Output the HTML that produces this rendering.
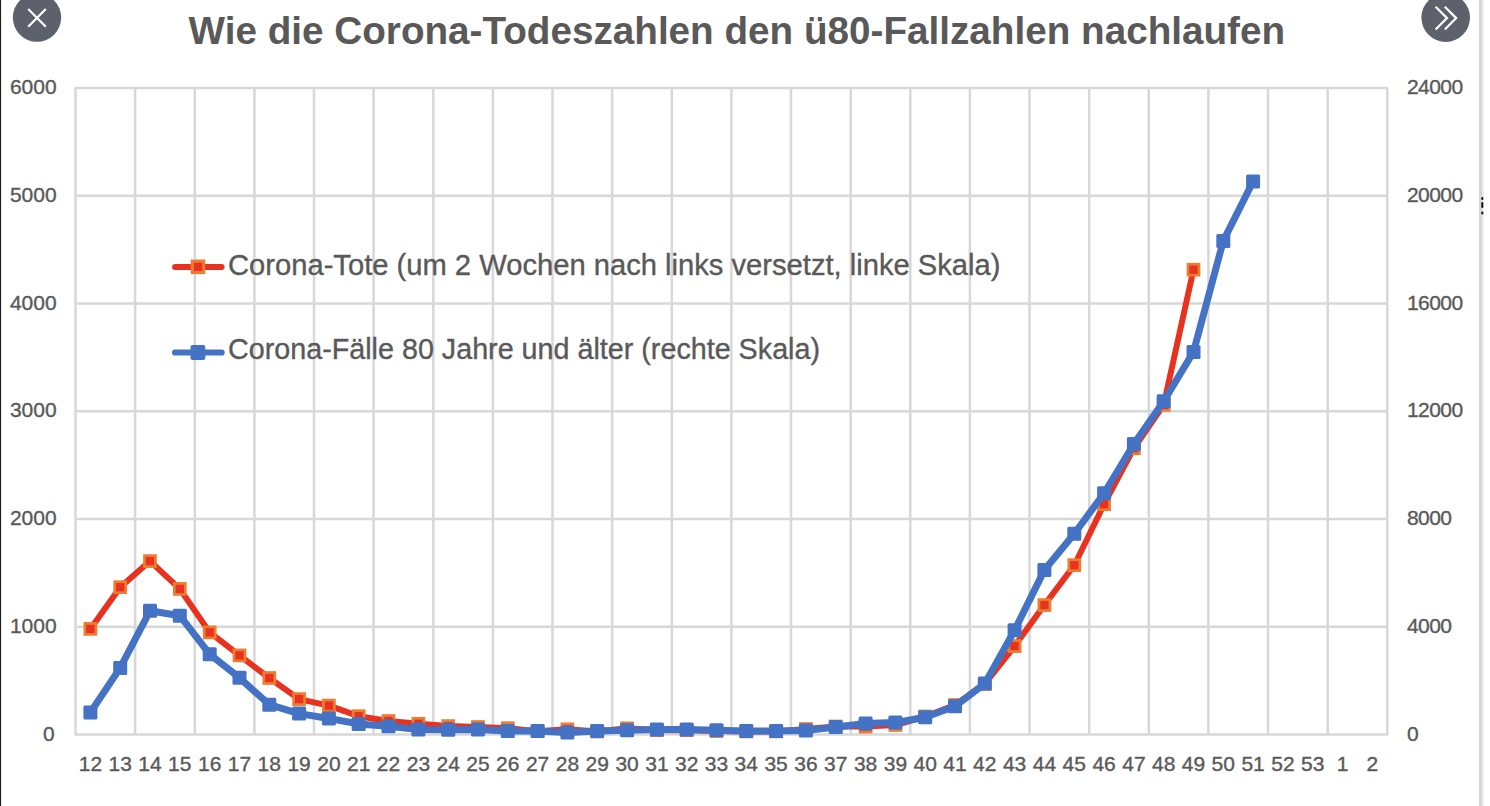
<!DOCTYPE html>
<html><head><meta charset="utf-8"><title>Wie die Corona-Todeszahlen den ü80-Fallzahlen nachlaufen</title>
<style>
html,body{margin:0;padding:0;background:#fff;overflow:hidden}
svg{display:block}
text{font-family:"Liberation Sans",Arial,sans-serif}
.t{stroke:#595959;stroke-width:0.35px}
</style></head><body>
<svg width="1490" height="806" viewBox="0 0 1490 806">
<rect width="1490" height="806" fill="#fff"/>
<path d="M74.5 88.0H1388.3 M74.5 195.8H1388.3 M74.5 303.5H1388.3 M74.5 411.3H1388.3 M74.5 519.1H1388.3 M74.5 626.8H1388.3 M74.5 734.6H1388.3 M75.5 88.0V734.6 M135.1 88.0V734.6 M194.8 88.0V734.6 M254.4 88.0V734.6 M314.0 88.0V734.6 M373.6 88.0V734.6 M433.3 88.0V734.6 M492.9 88.0V734.6 M552.5 88.0V734.6 M612.1 88.0V734.6 M671.8 88.0V734.6 M731.4 88.0V734.6 M791.0 88.0V734.6 M850.7 88.0V734.6 M910.3 88.0V734.6 M969.9 88.0V734.6 M1029.5 88.0V734.6 M1089.2 88.0V734.6 M1148.8 88.0V734.6 M1208.4 88.0V734.6 M1268.0 88.0V734.6 M1327.7 88.0V734.6 M1387.3 88.0V734.6" stroke="#d8d8d8" stroke-width="2.5" fill="none"/>
<g fill="#595959" font-size="21" text-anchor="end" class="t">
<text x="56.6" y="94.0">6000</text>
<text x="56.6" y="201.8">5000</text>
<text x="56.6" y="309.5">4000</text>
<text x="56.6" y="417.3">3000</text>
<text x="56.6" y="525.1">2000</text>
<text x="56.6" y="632.8">1000</text>
<text x="54.8" y="740.6">0</text>
</g>
<g fill="#595959" font-size="21" text-anchor="start" class="t">
<text x="1406.9" y="94.0" letter-spacing="-0.55">24000</text>
<text x="1406.9" y="201.8" letter-spacing="-0.55">20000</text>
<text x="1406.9" y="309.5" letter-spacing="-0.55">16000</text>
<text x="1406.9" y="417.3" letter-spacing="-0.55">12000</text>
<text x="1406.9" y="525.1" letter-spacing="-0.55">8000</text>
<text x="1406.9" y="632.8" letter-spacing="-0.55">4000</text>
<text x="1406.9" y="740.6" letter-spacing="-0.55">0</text>
</g>
<g fill="#595959" font-size="21" text-anchor="middle" class="t">
<text x="90.4" y="770.8">12</text>
<text x="120.2" y="770.8">13</text>
<text x="150.0" y="770.8">14</text>
<text x="179.8" y="770.8">15</text>
<text x="209.7" y="770.8">16</text>
<text x="239.5" y="770.8">17</text>
<text x="269.3" y="770.8">18</text>
<text x="299.1" y="770.8">19</text>
<text x="328.9" y="770.8">20</text>
<text x="358.7" y="770.8">21</text>
<text x="388.5" y="770.8">22</text>
<text x="418.4" y="770.8">23</text>
<text x="448.2" y="770.8">24</text>
<text x="478.0" y="770.8">25</text>
<text x="507.8" y="770.8">26</text>
<text x="537.6" y="770.8">27</text>
<text x="567.4" y="770.8">28</text>
<text x="597.2" y="770.8">29</text>
<text x="627.1" y="770.8">30</text>
<text x="656.9" y="770.8">31</text>
<text x="686.7" y="770.8">32</text>
<text x="716.5" y="770.8">33</text>
<text x="746.3" y="770.8">34</text>
<text x="776.1" y="770.8">35</text>
<text x="805.9" y="770.8">36</text>
<text x="835.7" y="770.8">37</text>
<text x="865.6" y="770.8">38</text>
<text x="895.4" y="770.8">39</text>
<text x="925.2" y="770.8">40</text>
<text x="955.0" y="770.8">41</text>
<text x="984.8" y="770.8">42</text>
<text x="1014.6" y="770.8">43</text>
<text x="1044.4" y="770.8">44</text>
<text x="1074.3" y="770.8">45</text>
<text x="1104.1" y="770.8">46</text>
<text x="1133.9" y="770.8">47</text>
<text x="1163.7" y="770.8">48</text>
<text x="1193.5" y="770.8">49</text>
<text x="1223.3" y="770.8">50</text>
<text x="1253.1" y="770.8">51</text>
<text x="1283.0" y="770.8">52</text>
<text x="1312.8" y="770.8">53</text>
<text x="1342.6" y="770.8">1</text>
<text x="1372.4" y="770.8">2</text>
</g>
<text x="188.6" y="44.3" fill="#595959" font-size="38.9" font-weight="bold" textLength="1096.5" lengthAdjust="spacingAndGlyphs">Wie die Corona-Todeszahlen den ü80-Fallzahlen nachlaufen</text>
<path d="M175.1 266.9H221.6" stroke="#e8321f" stroke-width="6" stroke-linecap="round"/>
<rect x="192.3" y="261.1" width="11.4" height="11.4" fill="#e8321f" stroke="#ed7d31" stroke-width="3.2"/>
<text class="t" x="228" y="274.9" fill="#595959" font-size="29" textLength="772.5" lengthAdjust="spacingAndGlyphs">Corona-Tote (um 2 Wochen nach links versetzt, linke Skala)</text>
<path d="M175.1 352.5H221.6" stroke="#4472c4" stroke-width="6.2" stroke-linecap="round"/>
<rect x="190.5" y="345.1" width="14.8" height="14.8" rx="2" fill="#4472c4"/>
<text class="t" x="228" y="358.8" fill="#595959" font-size="29" textLength="592" lengthAdjust="spacingAndGlyphs">Corona-Fälle 80 Jahre und älter (rechte Skala)</text>
<polyline points="90.4,628.9 120.2,587.2 150.0,561.1 179.8,588.9 209.7,632.4 239.5,655.4 269.3,678.0 299.1,699.1 328.9,705.6 358.7,716.2 388.5,721.0 418.4,723.8 448.2,726.1 478.0,727.0 507.8,728.2 537.6,731.2 567.4,729.3 597.2,731.5 627.1,728.3 656.9,730.2 686.7,730.2 716.5,731.0 746.3,731.4 776.1,731.4 805.9,729.0 835.7,726.5 865.6,726.6 895.4,725.0 925.2,716.5 955.0,705.0 984.8,684.0 1014.6,646.1 1044.4,605.1 1074.3,565.2 1104.1,504.2 1133.9,448.2 1163.7,404.9 1193.5,269.7" fill="none" stroke="#e8321f" stroke-width="6" stroke-linejoin="round"/>
<g>
<rect x="84.9" y="623.4" width="11" height="11" fill="#e8321f" stroke="#ed7d31" stroke-width="2.7"/>
<rect x="114.7" y="581.7" width="11" height="11" fill="#e8321f" stroke="#ed7d31" stroke-width="2.7"/>
<rect x="144.5" y="555.6" width="11" height="11" fill="#e8321f" stroke="#ed7d31" stroke-width="2.7"/>
<rect x="174.3" y="583.4" width="11" height="11" fill="#e8321f" stroke="#ed7d31" stroke-width="2.7"/>
<rect x="204.2" y="626.9" width="11" height="11" fill="#e8321f" stroke="#ed7d31" stroke-width="2.7"/>
<rect x="234.0" y="649.9" width="11" height="11" fill="#e8321f" stroke="#ed7d31" stroke-width="2.7"/>
<rect x="263.8" y="672.5" width="11" height="11" fill="#e8321f" stroke="#ed7d31" stroke-width="2.7"/>
<rect x="293.6" y="693.6" width="11" height="11" fill="#e8321f" stroke="#ed7d31" stroke-width="2.7"/>
<rect x="323.4" y="700.1" width="11" height="11" fill="#e8321f" stroke="#ed7d31" stroke-width="2.7"/>
<rect x="353.2" y="710.7" width="11" height="11" fill="#e8321f" stroke="#ed7d31" stroke-width="2.7"/>
<rect x="383.0" y="715.5" width="11" height="11" fill="#e8321f" stroke="#ed7d31" stroke-width="2.7"/>
<rect x="412.9" y="718.3" width="11" height="11" fill="#e8321f" stroke="#ed7d31" stroke-width="2.7"/>
<rect x="442.7" y="720.6" width="11" height="11" fill="#e8321f" stroke="#ed7d31" stroke-width="2.7"/>
<rect x="472.5" y="721.5" width="11" height="11" fill="#e8321f" stroke="#ed7d31" stroke-width="2.7"/>
<rect x="502.3" y="722.7" width="11" height="11" fill="#e8321f" stroke="#ed7d31" stroke-width="2.7"/>
<rect x="532.1" y="725.7" width="11" height="11" fill="#e8321f" stroke="#ed7d31" stroke-width="2.7"/>
<rect x="561.9" y="723.8" width="11" height="11" fill="#e8321f" stroke="#ed7d31" stroke-width="2.7"/>
<rect x="591.7" y="726.0" width="11" height="11" fill="#e8321f" stroke="#ed7d31" stroke-width="2.7"/>
<rect x="621.6" y="722.8" width="11" height="11" fill="#e8321f" stroke="#ed7d31" stroke-width="2.7"/>
<rect x="651.4" y="724.7" width="11" height="11" fill="#e8321f" stroke="#ed7d31" stroke-width="2.7"/>
<rect x="681.2" y="724.7" width="11" height="11" fill="#e8321f" stroke="#ed7d31" stroke-width="2.7"/>
<rect x="711.0" y="725.5" width="11" height="11" fill="#e8321f" stroke="#ed7d31" stroke-width="2.7"/>
<rect x="740.8" y="725.9" width="11" height="11" fill="#e8321f" stroke="#ed7d31" stroke-width="2.7"/>
<rect x="770.6" y="725.9" width="11" height="11" fill="#e8321f" stroke="#ed7d31" stroke-width="2.7"/>
<rect x="800.4" y="723.5" width="11" height="11" fill="#e8321f" stroke="#ed7d31" stroke-width="2.7"/>
<rect x="830.2" y="721.0" width="11" height="11" fill="#e8321f" stroke="#ed7d31" stroke-width="2.7"/>
<rect x="860.1" y="721.1" width="11" height="11" fill="#e8321f" stroke="#ed7d31" stroke-width="2.7"/>
<rect x="889.9" y="719.5" width="11" height="11" fill="#e8321f" stroke="#ed7d31" stroke-width="2.7"/>
<rect x="919.7" y="711.0" width="11" height="11" fill="#e8321f" stroke="#ed7d31" stroke-width="2.7"/>
<rect x="949.5" y="699.5" width="11" height="11" fill="#e8321f" stroke="#ed7d31" stroke-width="2.7"/>
<rect x="979.3" y="678.5" width="11" height="11" fill="#e8321f" stroke="#ed7d31" stroke-width="2.7"/>
<rect x="1009.1" y="640.6" width="11" height="11" fill="#e8321f" stroke="#ed7d31" stroke-width="2.7"/>
<rect x="1038.9" y="599.6" width="11" height="11" fill="#e8321f" stroke="#ed7d31" stroke-width="2.7"/>
<rect x="1068.8" y="559.7" width="11" height="11" fill="#e8321f" stroke="#ed7d31" stroke-width="2.7"/>
<rect x="1098.6" y="498.7" width="11" height="11" fill="#e8321f" stroke="#ed7d31" stroke-width="2.7"/>
<rect x="1128.4" y="442.7" width="11" height="11" fill="#e8321f" stroke="#ed7d31" stroke-width="2.7"/>
<rect x="1158.2" y="399.4" width="11" height="11" fill="#e8321f" stroke="#ed7d31" stroke-width="2.7"/>
<rect x="1188.0" y="264.2" width="11" height="11" fill="#e8321f" stroke="#ed7d31" stroke-width="2.7"/>
</g>
<polyline points="90.4,712.5 120.2,667.9 150.0,610.8 179.8,615.7 209.7,654.2 239.5,677.8 269.3,704.7 299.1,713.6 328.9,718.5 358.7,723.9 388.5,726.3 418.4,729.6 448.2,729.8 478.0,729.6 507.8,730.9 537.6,731.0 567.4,732.4 597.2,730.9 627.1,730.2 656.9,729.5 686.7,729.5 716.5,730.2 746.3,730.9 776.1,730.9 805.9,730.6 835.7,727.0 865.6,723.5 895.4,722.6 925.2,717.2 955.0,706.2 984.8,683.6 1014.6,630.2 1044.4,570.1 1074.3,533.8 1104.1,493.2 1133.9,444.1 1163.7,401.2 1193.5,351.9 1223.3,240.9 1253.1,181.5" fill="none" stroke="#4472c4" stroke-width="7" stroke-linejoin="round"/>
<g fill="#4472c4">
<rect x="83.4" y="705.5" width="14" height="14" rx="1.5"/>
<rect x="113.2" y="660.9" width="14" height="14" rx="1.5"/>
<rect x="143.0" y="603.8" width="14" height="14" rx="1.5"/>
<rect x="172.8" y="608.7" width="14" height="14" rx="1.5"/>
<rect x="202.7" y="647.2" width="14" height="14" rx="1.5"/>
<rect x="232.5" y="670.8" width="14" height="14" rx="1.5"/>
<rect x="262.3" y="697.7" width="14" height="14" rx="1.5"/>
<rect x="292.1" y="706.6" width="14" height="14" rx="1.5"/>
<rect x="321.9" y="711.5" width="14" height="14" rx="1.5"/>
<rect x="351.7" y="716.9" width="14" height="14" rx="1.5"/>
<rect x="381.5" y="719.3" width="14" height="14" rx="1.5"/>
<rect x="411.4" y="722.6" width="14" height="14" rx="1.5"/>
<rect x="441.2" y="722.8" width="14" height="14" rx="1.5"/>
<rect x="471.0" y="722.6" width="14" height="14" rx="1.5"/>
<rect x="500.8" y="723.9" width="14" height="14" rx="1.5"/>
<rect x="530.6" y="724.0" width="14" height="14" rx="1.5"/>
<rect x="560.4" y="725.4" width="14" height="14" rx="1.5"/>
<rect x="590.2" y="723.9" width="14" height="14" rx="1.5"/>
<rect x="620.1" y="723.2" width="14" height="14" rx="1.5"/>
<rect x="649.9" y="722.5" width="14" height="14" rx="1.5"/>
<rect x="679.7" y="722.5" width="14" height="14" rx="1.5"/>
<rect x="709.5" y="723.2" width="14" height="14" rx="1.5"/>
<rect x="739.3" y="723.9" width="14" height="14" rx="1.5"/>
<rect x="769.1" y="723.9" width="14" height="14" rx="1.5"/>
<rect x="798.9" y="723.6" width="14" height="14" rx="1.5"/>
<rect x="828.7" y="720.0" width="14" height="14" rx="1.5"/>
<rect x="858.6" y="716.5" width="14" height="14" rx="1.5"/>
<rect x="888.4" y="715.6" width="14" height="14" rx="1.5"/>
<rect x="918.2" y="710.2" width="14" height="14" rx="1.5"/>
<rect x="948.0" y="699.2" width="14" height="14" rx="1.5"/>
<rect x="977.8" y="676.6" width="14" height="14" rx="1.5"/>
<rect x="1007.6" y="623.2" width="14" height="14" rx="1.5"/>
<rect x="1037.4" y="563.1" width="14" height="14" rx="1.5"/>
<rect x="1067.3" y="526.8" width="14" height="14" rx="1.5"/>
<rect x="1097.1" y="486.2" width="14" height="14" rx="1.5"/>
<rect x="1126.9" y="437.1" width="14" height="14" rx="1.5"/>
<rect x="1156.7" y="394.2" width="14" height="14" rx="1.5"/>
<rect x="1186.5" y="344.9" width="14" height="14" rx="1.5"/>
<rect x="1216.3" y="233.9" width="14" height="14" rx="1.5"/>
<rect x="1246.1" y="174.5" width="14" height="14" rx="1.5"/>
</g>
<circle cx="37" cy="17.6" r="24.2" fill="#5d616b"/>
<path d="M28.2 9L45.8 26.8M45.8 9L28.2 26.8" stroke="#fff" stroke-width="2.2" fill="none"/>
<circle cx="1445.7" cy="17.6" r="24.3" fill="#5d616b"/>
<path d="M1435.6 6.8L1447 18.1L1435.6 29.6M1444.8 6.8L1456.2 18.1L1444.8 29.6" stroke="#fff" stroke-width="2.2" fill="none"/>
<rect x="0" y="0" width="1.1" height="806" fill="#1e2026"/>
<rect x="1479" y="0" width="3" height="806" fill="#d6d6d6"/>
<rect x="1482" y="0" width="2" height="806" fill="#ececec"/>
<g fill="#111"><rect x="1481.3" y="197" width="2" height="3" rx="1"/><rect x="1481.3" y="202" width="2" height="6" rx="1"/><rect x="1481.3" y="211.5" width="2" height="3" rx="1"/></g>
</svg>
</body></html>
